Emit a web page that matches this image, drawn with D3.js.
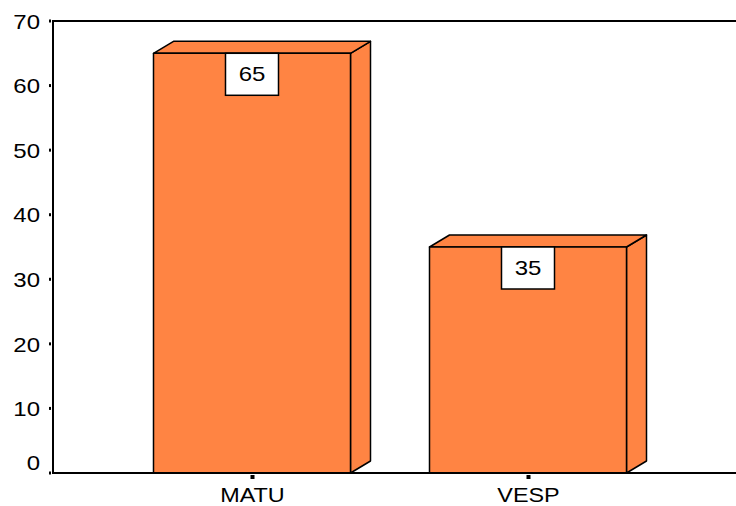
<!DOCTYPE html>
<html>
<head>
<meta charset="utf-8">
<script src="https://cdn.jsdelivr.net/npm/d3@7"></script>
<style>
  html, body { margin: 0; padding: 0; background: #fff; }
  svg { display: block; }
  text { font-family: "Liberation Sans", Arial, sans-serif; fill: #000; }
</style>
</head>
<body>
<svg id="chart" width="736" height="506"></svg>
<script>
// Shift counts
const categories = ["MATU", "VESP"];
const counts = [65, 35];
const yTickValues = [0, 10, 20, 30, 40, 50, 60, 70];

const plot = { left: 53, top: 21, right: 760, bottom: 473 };
const depth = { dx: 20, dy: -12 };
const barColor = "#FF8443";
const stretch = 1.2;

const svg = d3.select("#chart");

const x = d3.scalePoint()
  .domain(categories)
  .range([plot.left, 727])
  .padding(0.721);
const barWidth = 197;

const y = d3.scaleLinear()
  .domain([0, 70])
  .range([plot.bottom, plot.top]);

// Plot frame (right side runs off the canvas)
svg.append("path")
  .attr("d", `M${plot.right},${plot.top}H${plot.left}V${plot.bottom}H${plot.right}`)
  .attr("fill", "none")
  .attr("stroke", "#000")
  .attr("stroke-width", 2);

// Y axis: tick labels from the library axis, short marks drawn beside the line
const yAxis = svg.append("g")
  .attr("transform", `translate(40,0)`)
  .call(d3.axisLeft(y).tickValues(yTickValues).tickSize(0).tickPadding(0));
yAxis.select(".domain").remove();
yAxis.selectAll(".tick text")
  .attr("x", 0)
  .attr("dy", d => d === 0 ? "-0.2em" : "0.36em")
  .attr("font-size", 20)
  .attr("font-family", "'Liberation Sans', Arial, sans-serif")
  .attr("fill", "#000")
  .attr("text-anchor", "end")
  .attr("transform", `scale(${stretch},1)`);

svg.append("g").selectAll("rect")
  .data(yTickValues)
  .join("rect")
  .attr("x", 49)
  .attr("y", d => y(d) - 1.5)
  .attr("width", 2)
  .attr("height", 3)
  .attr("fill", "#000");

// 3D bars: front face, top face, right side face
const bars = svg.append("g").selectAll("g")
  .data(categories.map((c, i) => ({ cat: c, value: counts[i] })))
  .join("g");

bars.each(function (d) {
  const g = d3.select(this);
  const x0 = x(d.cat) - barWidth / 2;
  const x1 = x0 + barWidth;
  const yt = y(d.value);
  const yb = y(0);
  const style = s => s.attr("fill", barColor).attr("stroke", "#000")
    .attr("stroke-width", 1.5).attr("stroke-linejoin", "round");
  g.append("path")
    .attr("d", `M${x1},${yb}L${x1 + depth.dx},${yb + depth.dy}L${x1 + depth.dx},${yt + depth.dy}L${x1},${yt}Z`)
    .call(style);
  g.append("path")
    .attr("d", `M${x0},${yt}L${x0 + depth.dx},${yt + depth.dy}L${x1 + depth.dx},${yt + depth.dy}L${x1},${yt}Z`)
    .call(style);
  g.append("rect")
    .attr("x", x0).attr("y", yt)
    .attr("width", barWidth).attr("height", yb - yt)
    .call(style);

  // Value label box
  const bw = 53, bh = 42;
  const cx = x(d.cat);
  g.append("rect")
    .attr("x", cx - bw / 2).attr("y", yt)
    .attr("width", bw).attr("height", bh)
    .attr("fill", "#fff").attr("stroke", "#000").attr("stroke-width", 1.5);
  g.append("text")
    .attr("transform", `translate(${cx},${yt + bh / 2}) scale(${stretch},1)`)
    .attr("text-anchor", "middle")
    .attr("dy", "0.36em")
    .attr("font-size", 20)
    .text(d.value);
});

// Redraw baseline on top of the bars
svg.append("line")
  .attr("x1", plot.left - 1).attr("x2", plot.right)
  .attr("y1", plot.bottom).attr("y2", plot.bottom)
  .attr("stroke", "#000").attr("stroke-width", 2);

// X axis ticks and category labels
const xAxis = svg.append("g")
  .attr("transform", `translate(0,${plot.bottom})`)
  .call(d3.axisBottom(x).tickSize(0).tickPadding(0));
xAxis.select(".domain").remove();
xAxis.selectAll(".tick text")
  .attr("y", 22)
  .attr("dy", "0.36em")
  .attr("font-size", 19.5)
  .attr("font-family", "'Liberation Sans', Arial, sans-serif")
  .attr("fill", "#000")
  .attr("transform", `scale(${stretch},1)`);
xAxis.selectAll(".tick").append("rect")
  .attr("x", -2).attr("y", 2)
  .attr("width", 4).attr("height", 4)
  .attr("fill", "#000");
</script>
</body>
</html>
